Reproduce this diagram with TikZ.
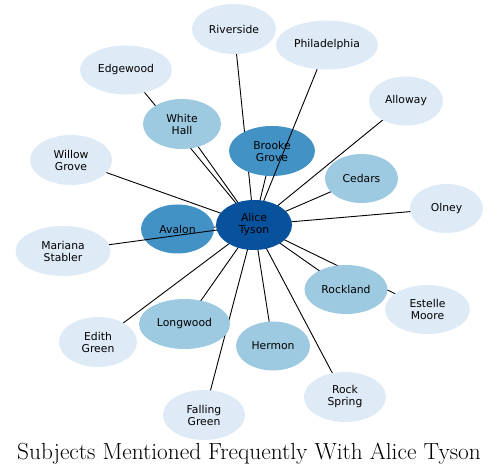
\documentclass[tikz,border=0pt]{standalone}
\usepackage{fontspec}
\newfontfamily\nodefont{DejaVu Sans}
\usepackage{tikz}
\usetikzlibrary{shapes.geometric}
\definecolor{subjDark}{HTML}{08519C}
\definecolor{subjMid}{HTML}{4292C6}
\definecolor{subjLight}{HTML}{9ECAE1}
\definecolor{subjPale}{HTML}{DEEBF7}
\pgfdeclarelayer{edgesback}
\pgfdeclarelayer{edgesfront}
\pgfdeclarelayer{hub}
\pgfsetlayers{edgesback,main,edgesfront,hub}
\tikzset{
    sbase/.style={ellipse, draw=none, inner sep=0pt, align=center, font=\nodefont\fontsize{10.8}{12}\selectfont, minimum height=49pt},
    sdark/.style={sbase, fill=subjDark},
    smid/.style={sbase, fill=subjMid},
    slight/.style={sbase, fill=subjLight},
    spale/.style={sbase, fill=subjPale},
    sline/.style={line width=0.9pt, black}
}

\begin{document}
\begin{tikzpicture}[x=1pt, y=-1pt, line cap=round, line join=round]
            \useasboundingbox (0,0) rectangle (499,476);

            % hub
            \begin{pgfonlayer}{hub}
                \node[sdark, minimum width=76pt, minimum height=50pt] (alice) at (254,225) {Alice\\Tyson};
            \end{pgfonlayer}

            % inner ring
            \node[smid, minimum width=73pt] (avalon) at (177.5,229) {Avalon};
            \node[smid, minimum width=86pt, minimum height=50pt] (brooke) at (272,151) {Brooke\\Grove};
            \node[slight, minimum width=78pt, minimum height=50pt] (white) at (182,124) {White\\Hall};
            \node[slight, minimum width=73pt] (cedars) at (361.5,178.5) {Cedars};
            \node[slight, minimum width=83pt] (rockland) at (346,289.5) {Rockland};
            \node[slight, minimum width=91pt, minimum height=50pt] (longwood) at (184.5,324) {Longwood};
            \node[slight, minimum width=74pt] (hermon) at (273,346) {Hermon};

            % outer ring
            \node[spale, minimum width=84pt, minimum height=50pt] (riverside) at (234,29) {Riverside};
            \node[spale, minimum width=102pt] (phila) at (327,45) {Philadelphia};
            \node[spale, minimum width=92pt] (edgewood) at (126,70) {Edgewood};
            \node[spale, minimum width=74pt] (alloway) at (406,101) {Alloway};
            \node[spale, minimum width=82pt, minimum height=50pt] (willow) at (71,160) {Willow\\Grove};
            \node[spale, minimum width=73pt] (olney) at (446.5,208.5) {Olney};
            \node[spale, minimum width=95pt, minimum height=50pt] (mariana) at (63,251) {Mariana\\Stabler};
            \node[spale, minimum width=85pt] (estelle) at (427.5,309.5) {Estelle\\Moore};
            \node[spale, minimum width=78pt, minimum height=50pt] (edith) at (98,342) {Edith\\Green};
            \node[spale, minimum width=82pt, minimum height=50pt] (rock) at (345,397) {Rock\\Spring};
            \node[spale, minimum width=82pt, minimum height=50pt] (falling) at (204,415) {Falling\\Green};

            \begin{pgfonlayer}{edgesback}
                \draw[sline] (alice.center) -- (avalon.center);
                \draw[sline] (alice.center) -- (brooke.center);
                \draw[sline] (alice.center) -- (white.center);
                \draw[sline] (alice.center) -- (cedars.center);
                \draw[sline] (alice.center) -- (rockland.center);
                \draw[sline] (alice.center) -- (longwood.center);
                \draw[sline] (alice.center) -- (hermon.center);
                \draw[sline] (alice.center) -- (riverside.center);
                \draw[sline] (alice.center) -- (edgewood.center);
                \draw[sline] (alice.center) -- (alloway.center);
                \draw[sline] (alice.center) -- (willow.center);
                \draw[sline] (alice.center) -- (olney.center);
                \draw[sline] (alice.center) -- (estelle.center);
                \draw[sline] (alice.center) -- (edith.center);
                \draw[sline] (alice.center) -- (rock.center);
                \draw[sline] (alice.center) -- (falling.center);
            \end{pgfonlayer}
            % these two cross over Brooke Grove and Avalon
            \begin{pgfonlayer}{edgesfront}
                \draw[sline] (alice.center) -- (phila);
                \draw[sline] (alice.center) -- (mariana);
            \end{pgfonlayer}

            \node[font=\fontsize{23.3}{28}\selectfont, anchor=base] (title) at (249,460) {Subjects Mentioned Frequently With Alice Tyson};
        \end{tikzpicture}
\end{document}
